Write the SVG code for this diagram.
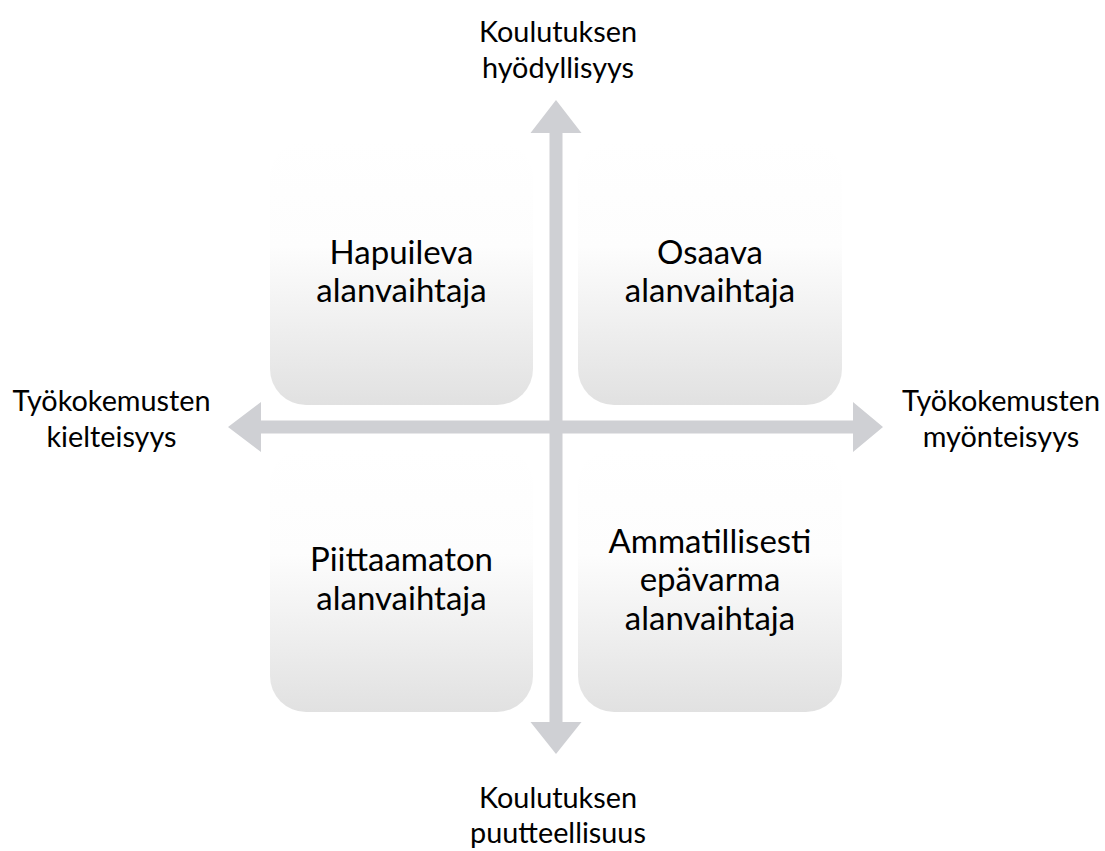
<svg xmlns="http://www.w3.org/2000/svg" width="1105" height="851" viewBox="0 0 1105 851">
  <defs>
    <linearGradient id="boxGrad" x1="0" y1="0" x2="0" y2="1">
      <stop offset="0" stop-color="#ffffff"/>
      <stop offset="0.4" stop-color="#fdfdfd"/>
      <stop offset="1" stop-color="#e1e1e1"/>
    </linearGradient>
  </defs>
  <style>
    .box { fill: url(#boxGrad); stroke: none; }
    .axis { fill: #cfd0d4; stroke: none; }
    .qlabel { font-family: Lato, "Open Sans", "Liberation Sans", sans-serif; font-size: 33px; fill: #000; text-anchor: middle; }
    .alabel { font-family: Lato, "Open Sans", "Liberation Sans", sans-serif; font-size: 28.8px; fill: #000; text-anchor: middle; }
  </style>
  <rect width="1105" height="851" fill="#ffffff"/>

  <g id="node-hapuileva">
    <rect class="box" x="270" y="141" width="263" height="264" rx="36" ry="36"/>
    <text class="qlabel" x="401.5" y="264">Hapuileva</text>
    <text class="qlabel" x="401.5" y="302">alanvaihtaja</text>
  </g>
  <g id="node-osaava">
    <rect class="box" x="578" y="141" width="264" height="264" rx="36" ry="36"/>
    <text class="qlabel" x="710" y="264">Osaava</text>
    <text class="qlabel" x="710" y="302">alanvaihtaja</text>
  </g>
  <g id="node-piittaamaton">
    <rect class="box" x="270" y="448" width="263" height="264" rx="36" ry="36"/>
    <text class="qlabel" x="401.5" y="571">Piittaamaton</text>
    <text class="qlabel" x="401.5" y="610">alanvaihtaja</text>
  </g>
  <g id="node-ammatillisesti">
    <rect class="box" x="578" y="448" width="264" height="264" rx="36" ry="36"/>
    <text class="qlabel" x="710" y="553">Ammatillisesti</text>
    <text class="qlabel" x="710" y="591">epävarma</text>
    <text class="qlabel" x="710" y="630">alanvaihtaja</text>
  </g>

  <g id="connectors">
    <polygon class="axis" points="556,100 581.5,133 562.5,133 562.5,722 581.5,722 556,754 530.5,722 549.5,722 549.5,133 530.5,133"/>
    <polygon class="axis" points="228,427 261,402 261,420.5 853,420.5 853,402 883,427 853,452 853,433.5 261,433.5 261,452"/>
  </g>

  <g id="label-top">
    <text class="alabel" x="558" y="42">Koulutuksen</text>
    <text class="alabel" x="558" y="78">hyödyllisyys</text>
  </g>
  <g id="label-bottom">
    <text class="alabel" x="558" y="808">Koulutuksen</text>
    <text class="alabel" x="558" y="843">puutteellisuus</text>
  </g>
  <g id="label-left">
    <text class="alabel" x="111.5" y="411">Työkokemusten</text>
    <text class="alabel" x="111.5" y="447">kielteisyys</text>
  </g>
  <g id="label-right">
    <text class="alabel" x="1001" y="411">Työkokemusten</text>
    <text class="alabel" x="1001" y="447">myönteisyys</text>
  </g>
</svg>
